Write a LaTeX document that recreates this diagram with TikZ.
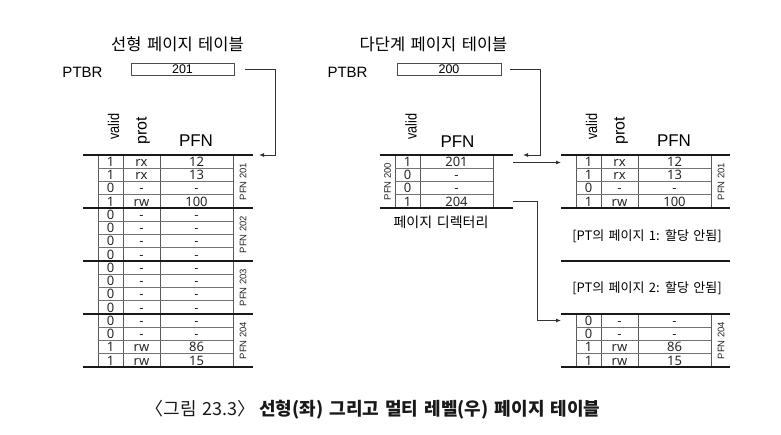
\documentclass[tikz,border=0pt]{standalone}
\usepackage{fontspec}
\setmainfont{Liberation Sans}
\newfontfamily\krfont[WordSpace=3]{Noto Sans CJK KR}
\newfontfamily\krtext[WordSpace=1.5]{Noto Sans CJK KR}
\newfontfamily\cellfont{Noto Sans}
\usetikzlibrary{arrows.meta}
\tikzset{
  pageline/.style={line width=1.6pt, black!90},
  rowline/.style={line width=0.6pt, black!55},
  colline/.style={line width=0.9pt, black!65},
  celltxt/.style={font=\cellfont\fontsize{13}{13}\selectfont, inner sep=0pt, anchor=base, text=black!85},
  pfnhdr/.style={font=\fontsize{17}{17}\selectfont, inner sep=0pt},
  rothdr/.style={inner sep=0pt, rotate=90, anchor=west},
  pagelbl/.style={font=\fontsize{9.5}{9.5}\selectfont, inner sep=0pt, rotate=90, text=black!85},
  ptbrlbl/.style={font=\fontsize{15}{15}\selectfont, inner sep=0pt},
  regbox/.style={draw=black!70, line width=0.7pt, minimum width=103pt, minimum height=12pt, inner sep=0pt, font=\fontsize{12.5}{12.5}\selectfont},
  conn/.style={line width=0.8pt, black!80, -{Latex[length=5pt,width=4pt]}},
  titletxt/.style={font=\krfont\fontsize{16.5}{16.5}\selectfont, inner sep=0pt},
  kornote/.style={font=\krtext\fontsize{13}{13}\selectfont, inner sep=0pt},
}
% #1 x of left end of page line, #2 page top y, #3 name prefix, #4 page label, #5 rows v/p/f
\newcommand\ptrows[5]{%
  \draw[colline] (#1+15,#2) -- (#1+15,#2+53);
  \draw[colline] (#1+40,#2) -- (#1+40,#2+53);
  \draw[colline] (#1+77,#2) -- (#1+77,#2+53);
  \draw[colline] (#1+150,#2) -- (#1+150,#2+53);
  \foreach \k in {1,2,3} \draw[rowline] (#1+15,#2+13.25*\k) -- (#1+150,#2+13.25*\k);
  \foreach \v/\p/\f [count=\i from 0] in {#5} {
    \node[celltxt] (#3v\i) at (#1+27.5,#2+13.25*\i+11.3) {\v};
    \node[celltxt] (#3p\i) at (#1+58.5,#2+13.25*\i+11.3) {\p};
    \node[celltxt] (#3f\i) at (#1+113.5,#2+13.25*\i+11.3) {\f};
  }
  \node[pagelbl] (#3lbl) at (#1+160,#2+26.5) {#4};
}
\newcommand\hdrs[2]{% #1 x0 offset, #2 prefix
  \node[rothdr] (#2valid) at (#1+30.5,140) {\fontsize{15.5}{15.5}\selectfont\scalebox{0.82}[1]{valid}};
  \node[rothdr] (#2prot) at (#1+60,145) {\fontsize{16}{16}\selectfont prot};
  \node[pfnhdr] (#2pfn) at (#1+113,141) {PFN};
}
\begin{document}
\begin{tikzpicture}[x=1pt,y=-1pt]
\useasboundingbox (0,0) rectangle (781,434);

% titles and registers
\node[titletxt] (t1) at (177.5,44) {선형 페이지 테이블};
\node[titletxt] (t2) at (433.5,44.5) {다단계 페이지 테이블};
\node[ptbrlbl] (pl1) at (82.5,72) {PTBR};
\node[ptbrlbl] (pl2) at (347.5,72.5) {PTBR};
\node[regbox] (ptbrL) at (182.5,69.5) {201};
\node[regbox, minimum width=104pt] (ptbrR) at (449,69.5) {200};

% linear page table
\hdrs{83}{L}
\ptrows{83}{155}{La}{PFN 201}{1/rx/12,1/rx/13,0/-/-,1/rw/100}
\ptrows{83}{208}{Lb}{PFN 202}{0/-/-,0/-/-,0/-/-,0/-/-}
\ptrows{83}{261}{Lc}{PFN 203}{0/-/-,0/-/-,0/-/-,0/-/-}
\ptrows{83}{314}{Ld}{PFN 204}{0/-/-,0/-/-,1/rw/86,1/rw/15}
\foreach \k in {0,...,4} \draw[pageline] (83,155+53*\k) -- (253,155+53*\k);

% page directory
\node[rothdr] (Dvalid) at (411,140) {\fontsize{15.5}{15.5}\selectfont\scalebox{0.82}[1]{valid}};
\node[pfnhdr] (Dpfn) at (457.5,142) {PFN};
\draw[colline] (395,155) -- (395,208);
\draw[colline] (420,155) -- (420,208);
\draw[colline] (493,155) -- (493,208);
\foreach \k in {1,2,3} \draw[rowline] (395,155+13.25*\k) -- (493,155+13.25*\k);
\foreach \v/\f [count=\i from 0] in {1/201,0/-,0/-,1/204} {
  \node[celltxt] (dv\i) at (407.5,155+13.25*\i+11.3) {\v};
  \node[celltxt] (df\i) at (456.5,155+13.25*\i+11.3) {\f};
}
\node[pagelbl] (dlbl) at (387.5,181.5) {PFN 200};
\draw[pageline] (380,155) -- (513,155);
\draw[pageline] (380,208) -- (513,208);
\node[font=\krfont\fontsize{14}{14}\selectfont, inner sep=0pt] (dname) at (441,222) {페이지 디렉터리};

% multi-level page table pages
\hdrs{561}{R}
\ptrows{561}{155}{Ra}{PFN 201}{1/rx/12,1/rx/13,0/-/-,1/rw/100}
\ptrows{561}{314}{Rd}{PFN 204}{0/-/-,0/-/-,1/rw/86,1/rw/15}
\foreach \k in {0,...,4} \draw[pageline] (561,155+53*\k) -- (730,155+53*\k);
\node[kornote] (np1) at (647,236.5) {[PT의 페이지 1: 할당 안됨]};
\node[kornote] (np2) at (647,288.5) {[PT의 페이지 2: 할당 안됨]};

% connector end points
\coordinate (Ltip) at (259,155);
\coordinate (Dtip) at (523,155);
\coordinate (d1) at (513,162.5);
\coordinate (d4) at (513,201.5);
\coordinate (ra1) at (561,162.5);
\coordinate (rd1) at (561,320.5);

\draw[conn] ([xshift=11pt]ptbrL.east) -| ([xshift=16pt]Ltip) -- (Ltip);
\draw[conn] ([xshift=9pt]ptbrR.east) -| ([xshift=17pt]Dtip) -- (Dtip);
\draw[conn] (d1) -- (ra1);
\draw[conn] (d4) -| ([xshift=-24pt]rd1) -- (rd1);

% caption
\node[font=\krtext\fontsize{18}{18}\selectfont, inner sep=0pt, text=black!90] (cap) at (373,410) {〈그림 23.3〉\hspace{0.2em}\bfseries 선형(좌) 그리고 멀티 레벨(우) 페이지 테이블};
\end{tikzpicture}
\end{document}
